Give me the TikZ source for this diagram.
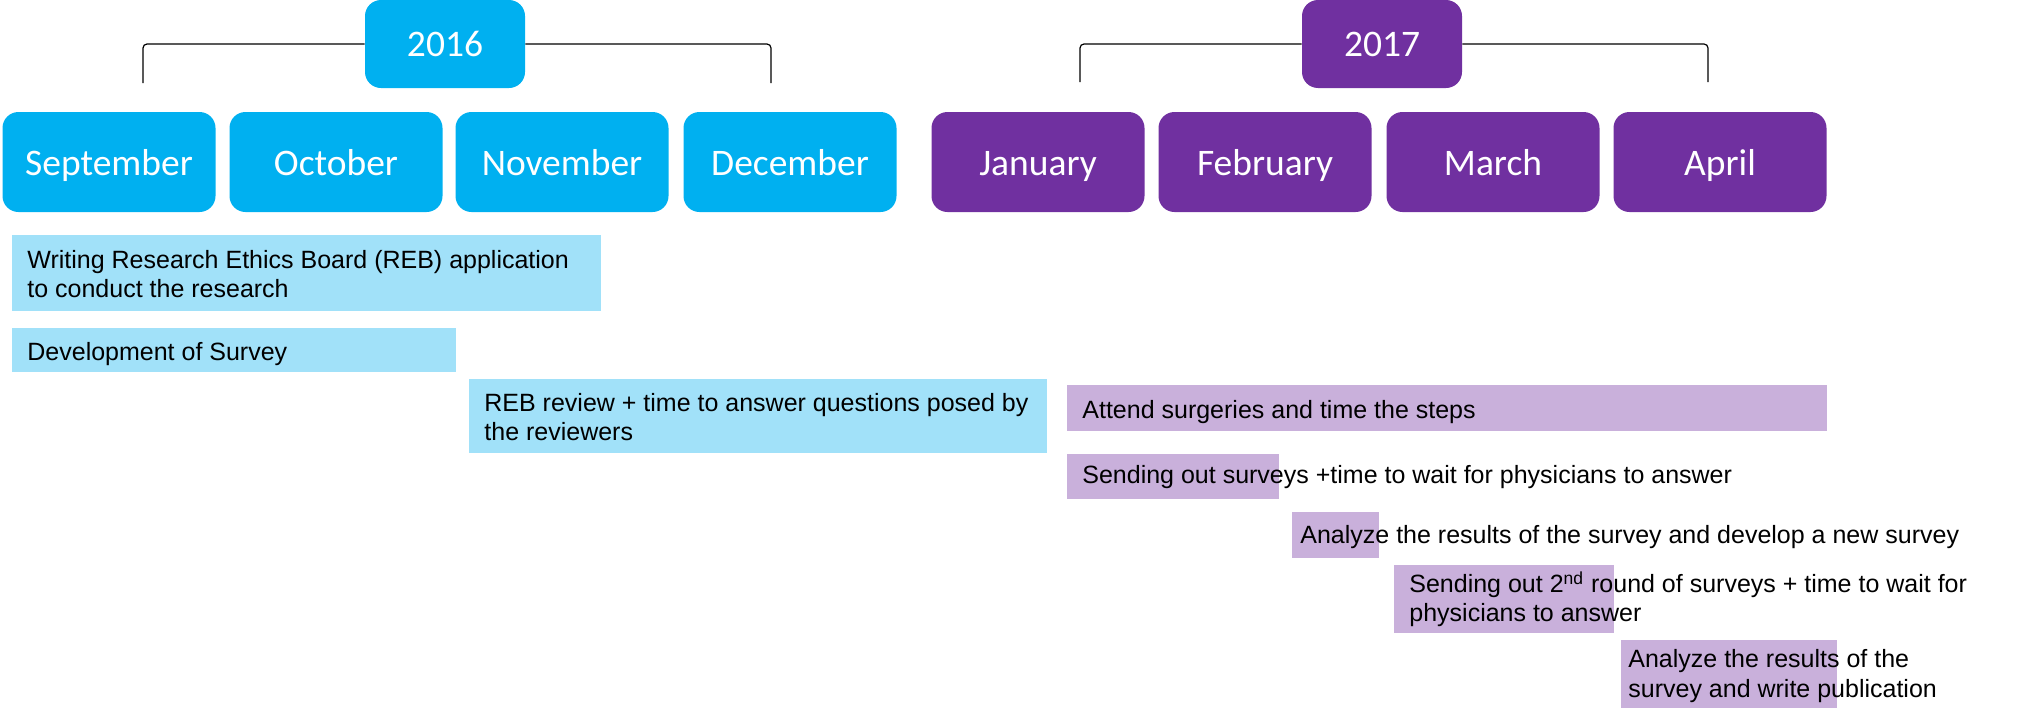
\documentclass[tikz,border=0pt]{standalone}
\usepackage{fontspec}
\setmainfont{Liberation Sans}
\newfontfamily\calfont{Carlito}
\definecolor{skyblue}{HTML}{00B0F0}
\definecolor{plum}{HTML}{7030A0}
\definecolor{paleblue}{HTML}{A1E1F9}
\definecolor{paleplum}{HTML}{C9B0DB}

\begin{document}
\begin{tikzpicture}[
  x=0.5pt,y=-0.5pt,
  monthbox/.style={fill=#1,text=white,rounded corners=8pt,minimum width=106.5pt,minimum height=50pt,inner sep=0pt,text height=13.5pt,text depth=0pt,font=\calfont\fontsize{18.75}{22}\selectfont},
  yearbox/.style={monthbox=#1,minimum width=80pt,minimum height=44pt,text height=12.4pt},
  bracket/.style={black,line width=0.6pt,rounded corners=2pt},
  task/.style={anchor=north west,inner sep=0pt,align=left,font=\fontsize{12.5}{14.25}\selectfont}
]
  \useasboundingbox (0,0) rectangle (2029,718);
  % years and their brackets
  \node[yearbox=skyblue] (y2016) at (445,44) {2016};
  \node[yearbox=plum] (y2017) at (1382,44) {2017};
  \coordinate (l16) at (143,83);
  \coordinate (r16) at (771,83);
  \coordinate (l17) at (1080,82);
  \coordinate (r17) at (1708,82);
  \draw[bracket] (l16) |- (y2016.west);
  \draw[bracket] (y2016.east) -| (r16);
  \draw[bracket] (l17) |- (y2017.west);
  \draw[bracket] (y2017.east) -| (r17);
  % months
  \foreach \m/\x in {September/109,October/336,November/562,December/790}
    \node[monthbox=skyblue] (\m) at (\x,162) {\m};
  \foreach \m/\x in {January/1038,February/1265,March/1493,April/1720}
    \node[monthbox=plum] (\m) at (\x,162) {\m};
  % tasks of 2016
  \fill[paleblue] (12,235) rectangle (601,311);
  \node[task] (writing) at (27,250) {Writing Research Ethics Board (REB) application\\to conduct the research};
  \fill[paleblue] (12,328) rectangle (456,372);
  \node[task] (develop) at (27,342) {Development of Survey};
  \fill[paleblue] (469,379) rectangle (1047,453);
  \node[task] (review) at (484,393) {REB review + time to answer questions posed by\\the reviewers};
  % tasks of 2017
  \fill[paleplum] (1067,385) rectangle (1827,431);
  \node[task] (attend) at (1082,400) {Attend surgeries and time the steps};
  \fill[paleplum] (1067,454) rectangle (1279,499);
  \node[task] (sending) at (1082,465) {Sending out surveys +time to wait for physicians to answer};
  \fill[paleplum] (1292,512) rectangle (1379,558);
  \node[task] (analyze) at (1300,525) {Analyze the results of the survey and develop a new survey};
  \fill[paleplum] (1394,565) rectangle (1614,633);
  \node[task] (second) at (1409,571) {Sending out 2\textsuperscript{nd} round of surveys + time to wait for\\physicians to answer};
  \fill[paleplum] (1621,640) rectangle (1837,708);
  \node[task,font=\fontsize{12.5}{15}\selectfont] (publish) at (1628,649) {Analyze the results of the\\survey and write publication};
\end{tikzpicture}
\end{document}
